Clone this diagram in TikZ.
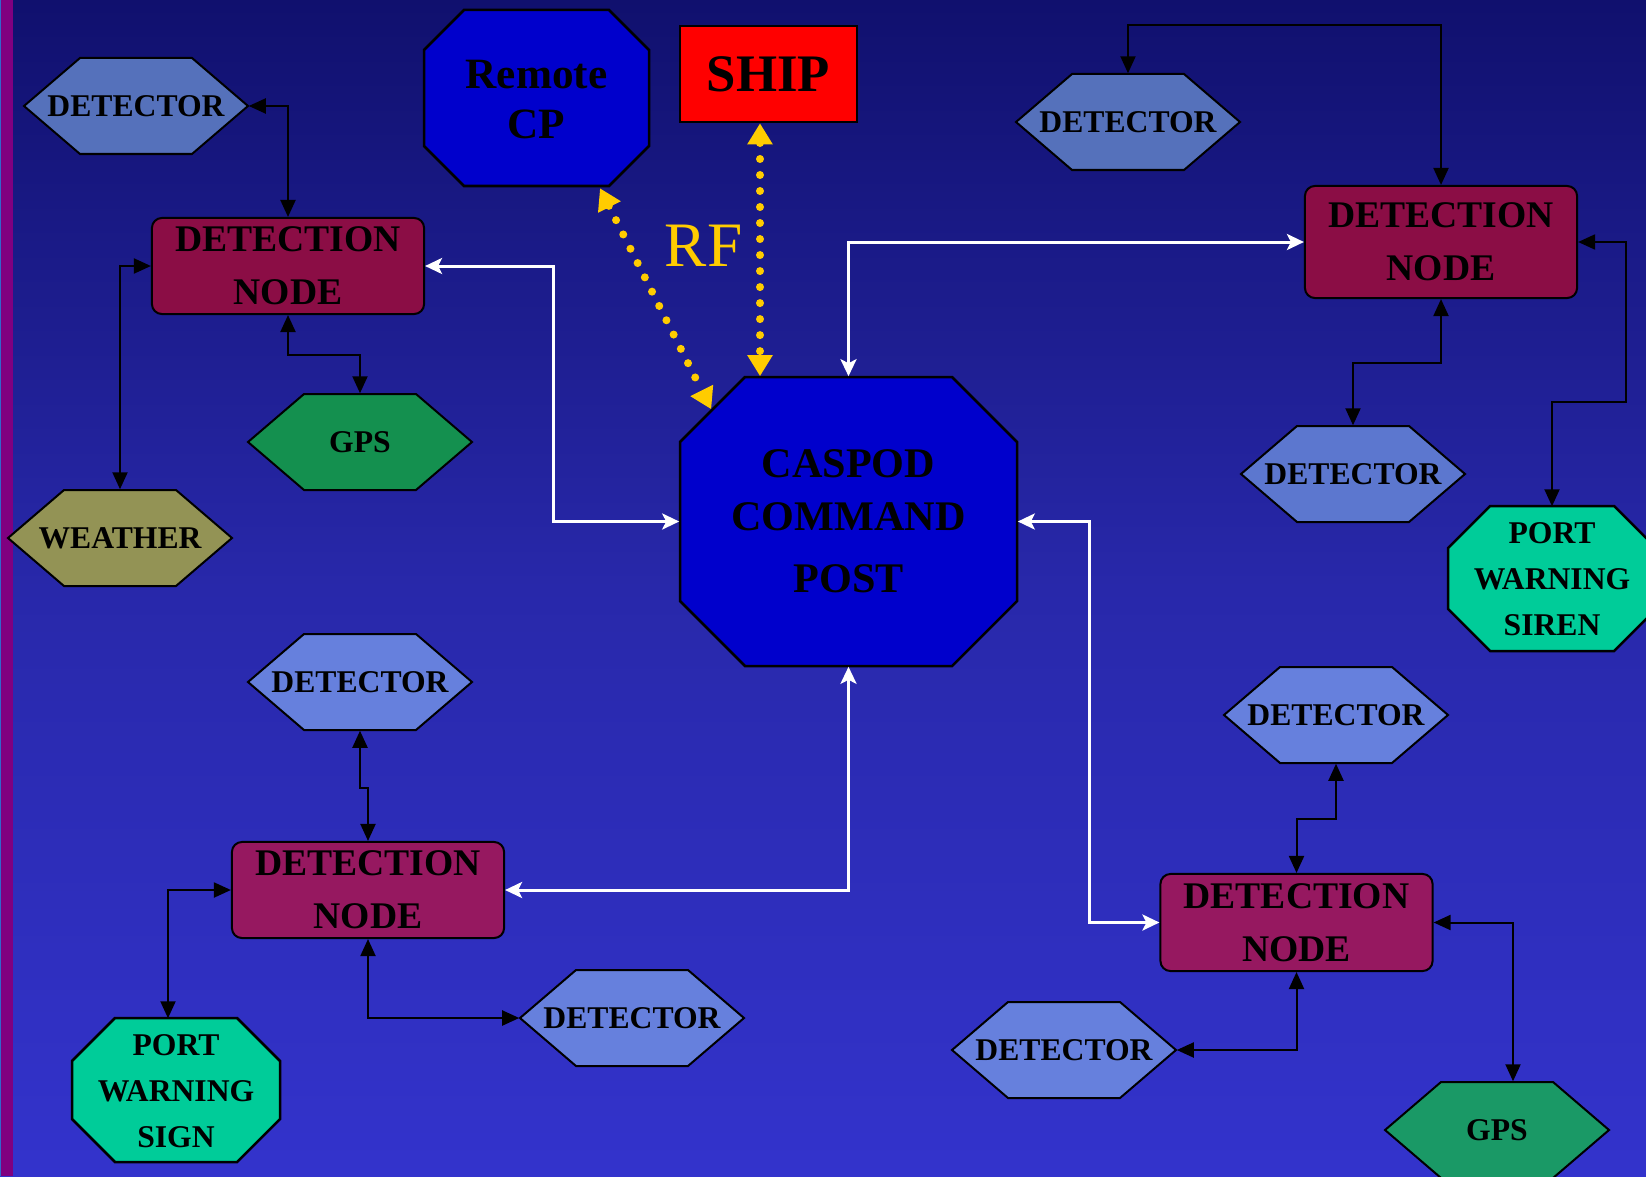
\documentclass[tikz,border=0pt]{standalone}
\usepackage{fontspec}
\setmainfont{Liberation Serif}
\usetikzlibrary{arrows.meta}
\definecolor{bgTop}{HTML}{10106E}
\definecolor{bgMid}{HTML}{2828AA}
\definecolor{bgBottom}{HTML}{3333CC}
\definecolor{stripe}{HTML}{800080}
\definecolor{stripeEdge}{HTML}{3366CC}
\definecolor{detector}{HTML}{5571BB}
\definecolor{detectorMid}{HTML}{5C77CF}
\definecolor{detectorLight}{HTML}{6680DD}
\definecolor{detNode}{HTML}{8B0D45}
\definecolor{detNodeLight}{HTML}{961860}
\definecolor{gps}{HTML}{14904F}
\definecolor{gpsLight}{HTML}{1A9966}
\definecolor{weather}{HTML}{939355}
\definecolor{warning}{HTML}{00CC99}
\definecolor{post}{HTML}{0000CC}
\definecolor{ship}{HTML}{FF0000}
\definecolor{rf}{HTML}{FFCC00}
\tikzset{hexLabel/.style={black,inner sep=0pt,minimum width=2.24cm,minimum height=0.96cm,align=center,font=\fontsize{9}{13}\selectfont\bfseries}}
\tikzset{octLabel/.style={black,inner sep=0pt,align=center,font=\fontsize{9}{13.1}\selectfont\bfseries}}
\tikzset{detNode/.style={black,draw=black,line width=0.02cm,rounded corners=0.1cm,minimum width=2.72cm,minimum height=0.96cm,inner sep=0pt,align=center,font=\fontsize{10.7}{15}\selectfont\bfseries}}
\tikzset{link/.style={black,line width=0.02cm,>={Triangle[length=0.17cm,width=0.15cm]},<->}}
\tikzset{trunk/.style={white,line width=0.03cm,>={Stealth[length=0.17cm,width=0.16cm,inset=0.04cm]},<->}}
\tikzset{radio/.style={rf,line width=0.08cm,line cap=round,dash pattern=on 0pt off 0.16cm,>={Triangle[length=0.21cm,width=0.24cm]},<->}}
\newcommand{\hexShape}[2]{\filldraw[fill=#2,draw=black,line width=0.02cm,shift={(#1)}] (-112,0) -- (-56,-48) -- (56,-48) -- (112,0) -- (56,48) -- (-56,48) -- cycle;}
\newcommand{\octShape}[5]{\filldraw[fill=#5,draw=black,line width=0.025cm,shift={(#1)}] (-#2,-#3+#4) -- (-#2+#4,-#3) -- (#2-#4,-#3) -- (#2,-#3+#4) -- (#2,#3-#4) -- (#2-#4,#3) -- (-#2+#4,#3) -- (-#2,#3-#4) -- cycle;}
\begin{document}
\begin{tikzpicture}[x=0.01cm,y=-0.01cm]
                \useasboundingbox (0,0) rectangle (1646,1176);
                \clip (0,0) rectangle (1646,1176);
                \shade[top color=bgTop,bottom color=bgBottom,middle color=bgMid] (0,0) rectangle (1646,1176);
                \fill[stripe] (0,0) rectangle (13,1176);
                \fill[stripeEdge] (0,0) rectangle (1.5,1176);

                \hexShape{136,106}{detector}
                \hexShape{1128,122}{detector}
                \hexShape{1353,474}{detectorMid}
                \hexShape{1336,715}{detectorLight}
                \hexShape{360,682}{detectorLight}
                \hexShape{632,1018}{detectorLight}
                \hexShape{1064,1050}{detectorLight}
                \hexShape{360,442}{gps}
                \hexShape{1497,1130}{gpsLight}
                \hexShape{120,538}{weather}
                \octShape{536.5,98}{112.5}{88}{40}{post}
                \octShape{848.5,521.5}{168.5}{144.5}{65}{post}
                \octShape{1552,578.5}{104}{72.5}{42}{warning}
                \octShape{176,1090}{104}{72}{43}{warning}

                \node[hexLabel] (detTL) at (136,106) {DETECTOR};
                \node[hexLabel] (detTR) at (1128,122) {DETECTOR};
                \node[hexLabel] (detMR) at (1353,474) {DETECTOR};
                \node[hexLabel] (detLR) at (1336,715) {DETECTOR};
                \node[hexLabel] (detLL) at (360,682) {DETECTOR};
                \node[hexLabel] (detBC) at (632,1018) {DETECTOR};
                \node[hexLabel] (detBR) at (1064,1050) {DETECTOR};
                \node[hexLabel] (gpsTL) at (360,442) {GPS};
                \node[hexLabel] (gpsBR) at (1497,1130) {GPS};
                \node[hexLabel] (weather) at (120,538) {WEATHER};
                \node[octLabel,minimum width=2.25cm,minimum height=1.76cm,font=\fontsize{12.3}{14.2}\selectfont\bfseries] (remote) at (536.5,99.5) {Remote\\CP};
                \node[octLabel,minimum width=3.37cm,minimum height=2.89cm,font=\fontsize{12}{15}\selectfont\bfseries] (caspod) at (848.5,521.5) {CASPOD\\COMMAND\\[2.6pt]POST};
                \node[octLabel,minimum width=2.08cm,minimum height=1.45cm] (siren) at (1552,579.5) {PORT\\WARNING\\SIREN};
                \node[octLabel,minimum width=2.08cm,minimum height=1.44cm] (sign) at (176,1091) {PORT\\WARNING\\SIGN};
                \node[black,draw=black,fill=ship,line width=0.025cm,minimum width=1.77cm,minimum height=0.96cm,inner sep=0pt,font=\fontsize{15}{15}\selectfont\bfseries] (ship) at (768.5,74) {SHIP};
                \node[text=rf,inner sep=0pt,font=\fontsize{18}{18}\selectfont] (rfLabel) at (703.5,246) {RF};

                \node[detNode,fill=detNode] (nodeTL) at (288,266) {DETECTION\\NODE};
                \node[detNode,fill=detNode,minimum height=1.12cm] (nodeTR) at (1441,242) {DETECTION\\NODE};
                \node[detNode,fill=detNodeLight] (nodeLL) at (368,890) {DETECTION\\NODE};
                \node[detNode,fill=detNodeLight,minimum height=0.97cm] (nodeLR) at (1296.5,922.5) {DETECTION\\NODE};

                \coordinate (shipFoot) at ([shift={(-8.5,0)}]ship.south);
                \coordinate (remoteFoot) at ([shift={(63.5,0)}]remote.south);
                \coordinate (caspodEdge) at ([shift={(32,33)}]caspod.north west);

                \draw[link] (detTL.east) -| (nodeTL.north);
                \draw[link] (nodeTL.west) -| (weather.north);
                \draw[link] (nodeTL.south) -- ++(0,40) -| (gpsTL.north);
                \draw[link] (detTR.north) -- ++(0,-48) -| (nodeTR.north);
                \draw[link] (nodeTR.east) -| ++(48,160) -| (siren.north);
                \draw[link] (nodeTR.south) -- ++(0,64) -| (detMR.north);
                \draw[link] (detLR.south) -- ++(0,55) -| (nodeLR.north);
                \draw[link] (nodeLR.east) -| ([shift={(16,0)}]gpsBR.north);
                \draw[link] (nodeLR.south) |- (detBR.east);
                \draw[link] (detLL.south) -- ++(0,57) -| (nodeLL.north);
                \draw[link] (nodeLL.west) -| ([shift={(-8,0)}]sign.north);
                \draw[link] (nodeLL.south) |- (detBC.west);

                \draw[trunk] (nodeTL.east) -- ++(128,0) |- (caspod.west);
                \draw[trunk] (caspod.north) |- (nodeTR.west);
                \draw[trunk] (caspod.east) -- ++(72,0) |- (nodeLR.west);
                \draw[trunk] (caspod.south) |- (nodeLL.east);

                \draw[radio] (shipFoot) -- (shipFoot |- caspod.north);
                \draw[radio] (remoteFoot) -- (caspodEdge);
                \end{tikzpicture}
\end{document}
